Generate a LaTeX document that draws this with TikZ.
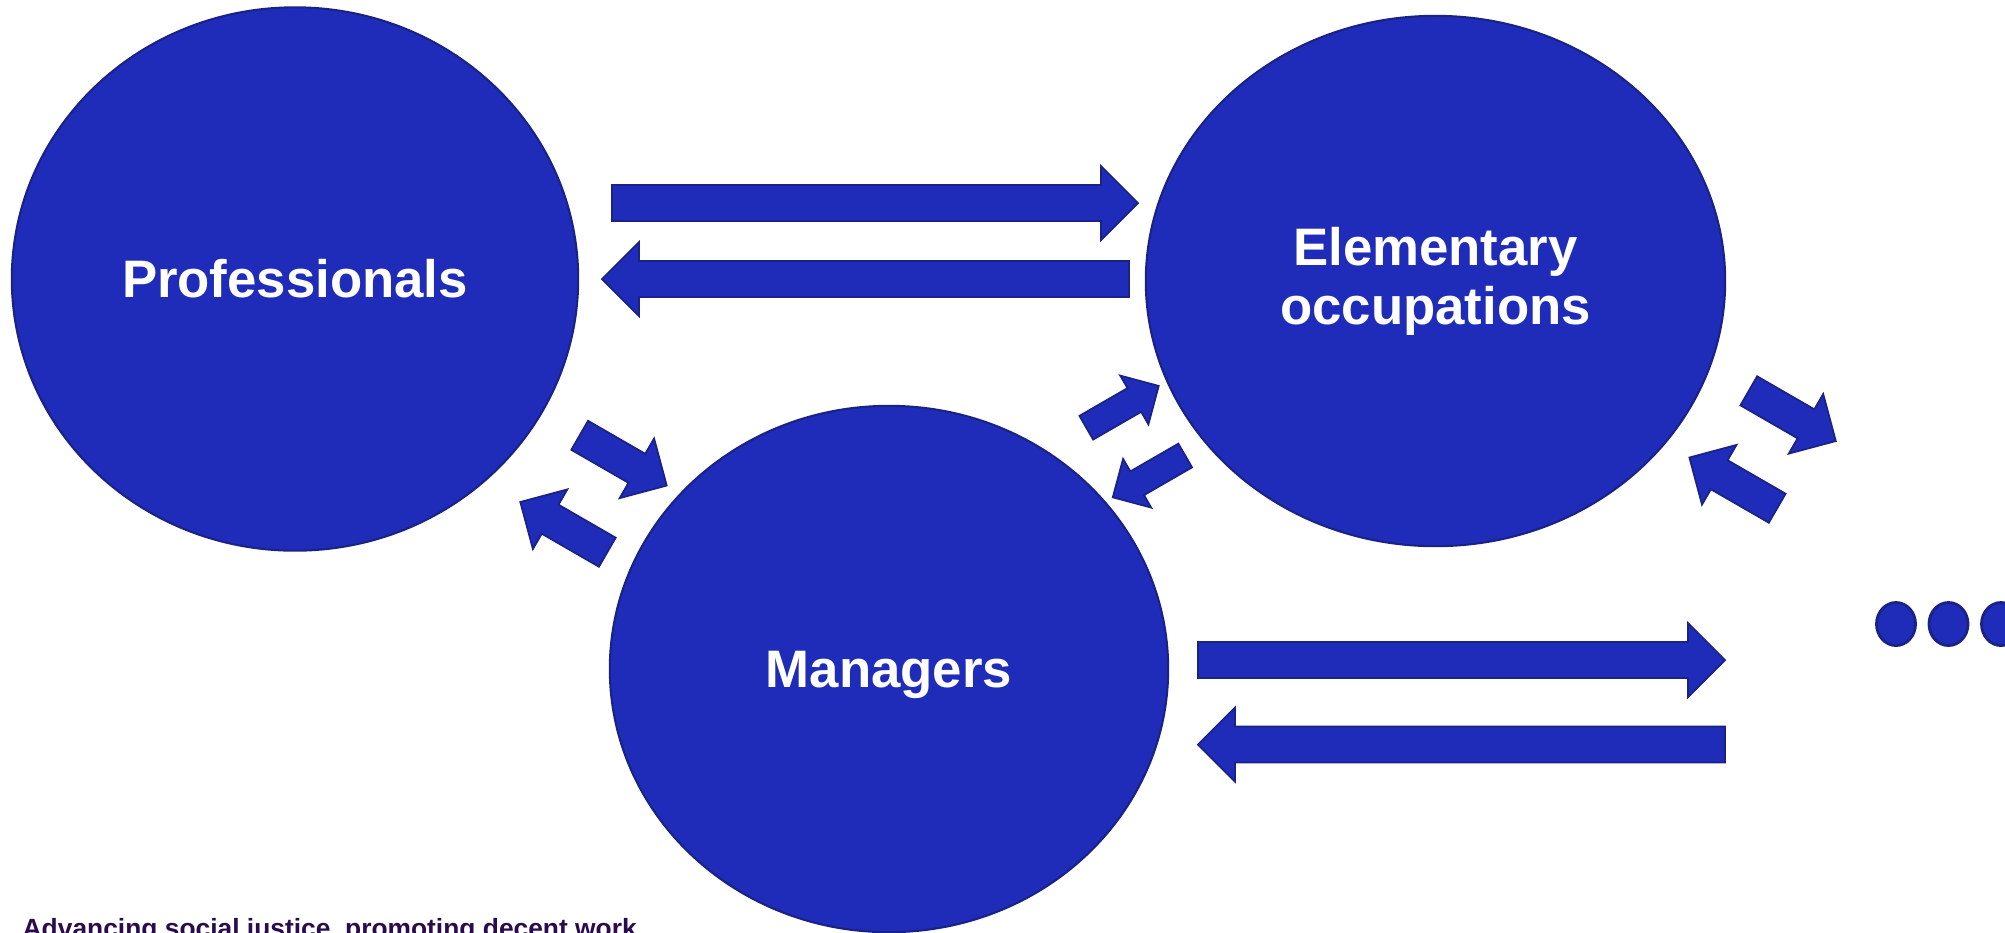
\documentclass[tikz,border=0pt]{standalone}
\usepackage{fontspec}
\setmainfont{Liberation Sans}
\usepackage{tikz}
\usetikzlibrary{shapes.geometric}
\definecolor{royalblue}{HTML}{1F2CB9}
\definecolor{inkblue}{HTML}{1A2385}
\definecolor{deepplum}{HTML}{2A0C4E}

\begin{document}
\begin{tikzpicture}[
  x=0.01cm,y=-0.01cm,
  bubble/.style={ellipse,fill=royalblue,draw=inkblue,line width=0.6pt,
    inner sep=0pt,align=center,text=white,
    font=\fontsize{15}{16.8}\selectfont\bfseries},
  trail/.style={ellipse,fill=royalblue,draw=inkblue,line width=0.8pt,
    minimum width=0.39cm,minimum height=0.43cm,inner sep=0pt},
  pics/flow/.style={code={
    \filldraw[fill=royalblue,draw=inkblue,line width=0.5pt]
      (0,-18) -- ({#1-37},-18) -- ({#1-37},-37) -- (#1,0)
      -- ({#1-37},37) -- ({#1-37},18) -- (0,18) -- cycle;
  }}
]
  \path[use as bounding box,fill=white] (0,0) rectangle (2005,932);

  % the three groups
  \node[bubble,minimum width=5.66cm,minimum height=5.43cm] (prof) at (295,279) {Professionals};
  \node[bubble,minimum width=5.79cm,minimum height=5.30cm] (elem) at (1435.5,281) {Elementary\\occupations};
  \node[bubble,minimum width=5.58cm,minimum height=5.26cm,text depth=0pt] (mgr) at (889,669) {Managers};

  % flows between them
  \pic at (612,203) {flow=526};
  \pic[rotate=180] at (1129,279) {flow=527};
  \pic at (1198,660) {flow=527};
  \pic[rotate=180] at (1725,744.5) {flow=527};

  \pic[rotate=-30,scale=0.93] at (579.7,435.3) {flow=108};
  \pic[rotate=150,scale=0.93] at (607.3,552.2) {flow=108};
  \pic[rotate=30,scale=0.76] at (1086.3,427.7) {flow=110};
  \pic[rotate=210,scale=0.76] at (1185.2,455.5) {flow=110};
  \pic[rotate=-30,scale=0.93] at (1748.8,390.8) {flow=108};
  \pic[rotate=150,scale=0.93] at (1777.2,508.2) {flow=109};

  % more groups
  \foreach \i/\x in {1/1896,2/1948.5,3/2001}
    \node[trail] (more\i) at (\x,624) {};

  \node[anchor=base west,inner sep=0pt,text=deepplum,
    font=\fontsize{7.5}{9}\selectfont\bfseries] (motto) at (22,937)
    {Advancing social justice, promoting decent work};
\end{tikzpicture}
\end{document}
